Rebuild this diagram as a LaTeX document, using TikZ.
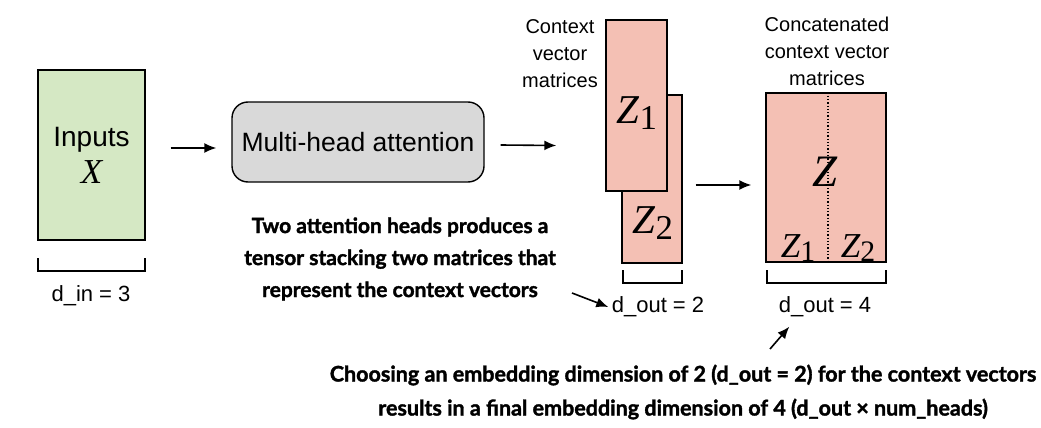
\documentclass[tikz,border=0pt]{standalone}
\usepackage{fontspec}
\setmainfont{Liberation Sans}
\newfontfamily\notefont[BoldFeatures={FakeBold=1.6}]{Lato}
\newfontfamily\symfont{Liberation Serif}
\usetikzlibrary{arrows.meta}
\definecolor{inGreen}{HTML}{D5E8C4}
\definecolor{ctxPink}{HTML}{F4C0B4}
\definecolor{headGray}{HTML}{D9D9D9}
\newcommand\matsym[2]{{\symfont\itshape #1}\raisebox{-0.13em}{\scalebox{0.85}{\symfont #2}}}

\begin{document}
\begin{tikzpicture}[x=1pt,y=-1pt,
    box/.style={draw,line width=1.4pt,inner sep=0pt},
    mat/.style={box,fill=ctxPink},
    arr/.style={-{Latex[length=12pt,width=10pt]},line width=1.6pt},
    brack/.style={line width=1.5pt},
    lab/.style={font=\fontsize{22}{26}\selectfont},
    head/.style={align=center,font=\fontsize{20}{27}\selectfont},
    note/.style={align=center,font=\notefont\bfseries\fontsize{21}{32}\selectfont}]
  \useasboundingbox (0,0) rectangle (1041,428);
  \node[box,fill=inGreen,minimum width=107,minimum height=170,align=center,font=\fontsize{28}{37}\selectfont] (inp) at (91.5,155) {Inputs\\{\symfont\itshape\fontsize{35}{37}\selectfont X}};
  \node[box,fill=headGray,rounded corners=16pt,minimum width=252,minimum height=80,font=\fontsize{26.5}{30}\selectfont] (mha) at (358,142) {Multi-head attention};
  \node[mat,minimum width=60,minimum height=168] (z2) at (652,179) {};
  \node[mat,minimum width=61,minimum height=171] (z1) at (636.5,105.5) {};
  \node[mat,minimum width=120,minimum height=169] (zcat) at (826,177.5) {};
  \draw[dotted,line width=1.3pt] ([xshift=2pt]zcat.north) -- ([xshift=2pt]zcat.south);
  \node[font=\fontsize{41}{41}\selectfont] (z1name) at (637,113) {\matsym{Z}{1}};
  \node[font=\fontsize{41}{41}\selectfont] (z2name) at (653,223) {\matsym{Z}{2}};
  \node[font=\fontsize{45}{45}\selectfont] (zname) at (825,172) {{\symfont\itshape Z}};
  \node[font=\fontsize{35}{35}\selectfont] (zleft) at (798,248) {\matsym{Z}{1}};
  \node[font=\fontsize{35}{35}\selectfont] (zright) at (858,248) {\matsym{Z}{2}};
  \draw[brack] (38,258) |- (145,271) -- (145,258);
  \draw[brack] (623,270) |- (682,283) -- (682,270);
  \draw[brack] (767,270) |- (886,283) -- (886,270);
  \node[lab] (din) at (91,296) {d\_in = 3};
  \node[lab] (dout2) at (658,307) {d\_out = 2};
  \node[lab] (dout4) at (825,307) {d\_out = 4};
  \node[head] (ctx) at (560,54) {Context\\vector\\matrices};
  \node[head] (cat) at (827,51) {Concatenated\\context vector\\matrices};
  \node[note] (heads) at (400,259) {Two attention heads produces a\\tensor stacking two matrices that\\represent the context vectors};
  \node[note,font=\notefont\bfseries\fontsize{21.5}{34}\selectfont] (dims) at (683,392) {Choosing an embedding dimension of 2 (d\_out = 2) for the context vectors\\results in a final embedding dimension of 4 (d\_out × num\_heads)};
  \coordinate (p2) at (572,293);
  \coordinate (p4) at (770,349);
  \draw[arr] ([shift={(25,-7)}]inp.east) -- ([shift={(-15,6)}]mha.west);
  \draw[arr] ([shift={(16,3)}]mha.east) -- ([shift={(-49,40)}]z1.west);
  \draw[arr] ([shift={(13,6)}]z2.east) -- ([shift={(-14,7.5)}]zcat.west);
  \draw[arr] (p2) -- (dout2.west);
  \draw[arr] (p4) -- ([shift={(14,6)}]dout4.south west);
\end{tikzpicture}
\end{document}
